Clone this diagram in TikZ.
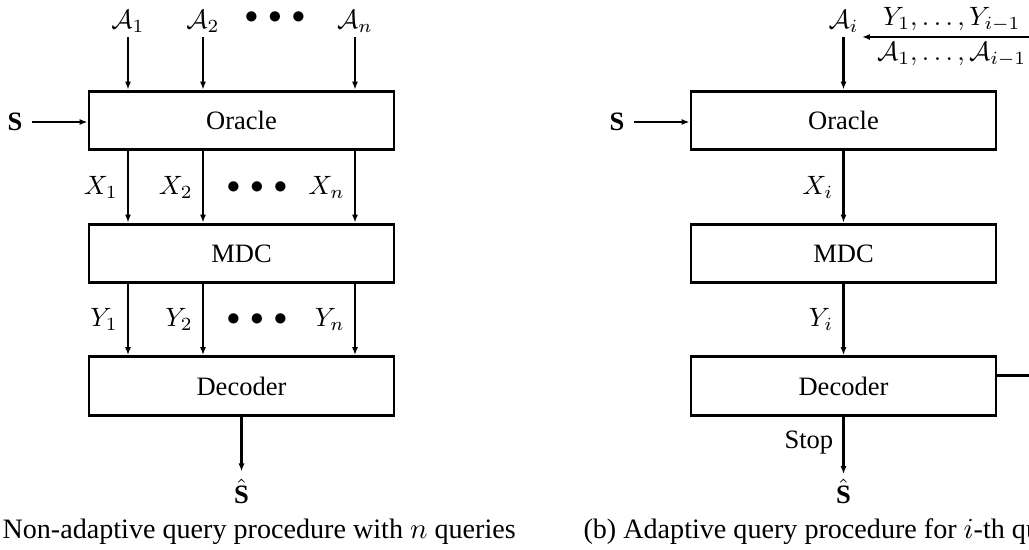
\documentclass[tikz,border=0pt]{standalone}
\usepackage[no-math]{fontspec}
\setmainfont{Liberation Serif}
\usetikzlibrary{arrows.meta,calc}
\begin{document}
\begin{tikzpicture}[x=0.377pt,y=-0.377pt,
  box/.style={draw, line width=1.1pt, minimum width=115pt, minimum height=22.2pt, inner sep=0pt},
  arr/.style={line width=1.1pt, -{Latex[length=3pt,width=2.3pt]}},
  lab/.style={inner sep=1.5pt},
  dots/.style={inner sep=0pt},
  hatS/.style={inner sep=0.5pt},
  captext/.style={anchor=west, inner sep=0pt, font=\fontsize{10.6}{12}\selectfont}
]
\path[use as bounding box, clip] (0,0) rectangle (1029,550);

% ---------- left diagram ----------
\node[box] (oL) at (241.5,120.5) {Oracle};
\node[box] (mL) at (241.5,253.5) {MDC};
\node[box] (dL) at (241.5,386) {Decoder};

\node[lab, anchor=south] (a1) at (128,37) {$\mathcal{A}_1$};
\node[lab, anchor=south] (a2) at (203,37) {$\mathcal{A}_2$};
\node[lab, anchor=south] (an) at (355,37) {$\mathcal{A}_n$};
\node[dots] (dA) at (275,18) {$\bullet\,\bullet\,\bullet$};

\draw[arr] (a1) -- (a1 |- oL.north);
\draw[arr] (a2) -- (a2 |- oL.north);
\draw[arr] (an) -- (an |- oL.north);

\node (sL) at (15,122) {\textbf{S}};
\draw[arr] (sL.east) -- (sL.east -| oL.west);

\draw[arr] (oL.south -| a1) -- node[midway,left] {$X_1$} (mL.north -| a1);
\draw[arr] (oL.south -| a2) -- node[midway,left] {$X_2$} (mL.north -| a2);
\draw[arr] (oL.south -| an) -- node[midway,left] {$X_n$} (mL.north -| an);
\node[dots] (dX) at (257,188) {$\bullet\,\bullet\,\bullet$};

\draw[arr] (mL.south -| a1) -- node[midway,left] {$Y_1$} (dL.north -| a1);
\draw[arr] (mL.south -| a2) -- node[midway,left] {$Y_2$} (dL.north -| a2);
\draw[arr] (mL.south -| an) -- node[midway,left] {$Y_n$} (dL.north -| an);
\node[dots] (dY) at (257,320) {$\bullet\,\bullet\,\bullet$};

\node[hatS] (shL) at (241.5,491) {$\hat{\textbf{S}}$};
\draw[arr, shorten >=2pt] (dL) -- (shL);

% ---------- right diagram ----------
\node[box] (oR) at (843.5,120.5) {Oracle};
\node[box] (mR) at (843.5,253.5) {MDC};
\node[box] (dR) at (843.5,386) {Decoder};

\node[lab, anchor=south] (ai) at (843.5,37) {$\mathcal{A}_i$};
\draw[arr] (ai) -- (oR);

\node (sR) at (617,122) {\textbf{S}};
\draw[arr] (sR.east) -- (sR.east -| oR.west);

\draw[arr] (oR) -- node[midway,left] {$X_i$} (mR);
\draw[arr] (mR) -- node[midway,left] {$Y_i$} (dR);

\node[hatS] (shR) at (843.5,491) {$\hat{\textbf{S}}$};
\draw[arr, shorten >=1pt] (dR) -- node[midway,left,yshift=1.5pt] {Stop} (shR);

\coordinate (fbA) at ($(dR.north east)!0.33!(dR.south east)$);
\coordinate (fbB) at ($(fbA)+(44,0)$);
\coordinate (fbC) at (fbB |- ai.south);
\coordinate (fbD) at (862,0 |- ai.south);
\draw[arr] (fbA) -- (fbB) -- (fbC) --
  node[midway,above,lab] {$Y_1,\ldots,Y_{i-1}$}
  node[midway,below,lab] {$\mathcal{A}_1,\ldots,\mathcal{A}_{i-1}$} (fbD);

% ---------- captions ----------
\node[captext] (capL) at (2,532) {Non-adaptive query procedure with $n$ queries};
\node[captext] (capR) at (583,532) {(b) Adaptive query procedure for $i$-th query};
\end{tikzpicture}
\end{document}
